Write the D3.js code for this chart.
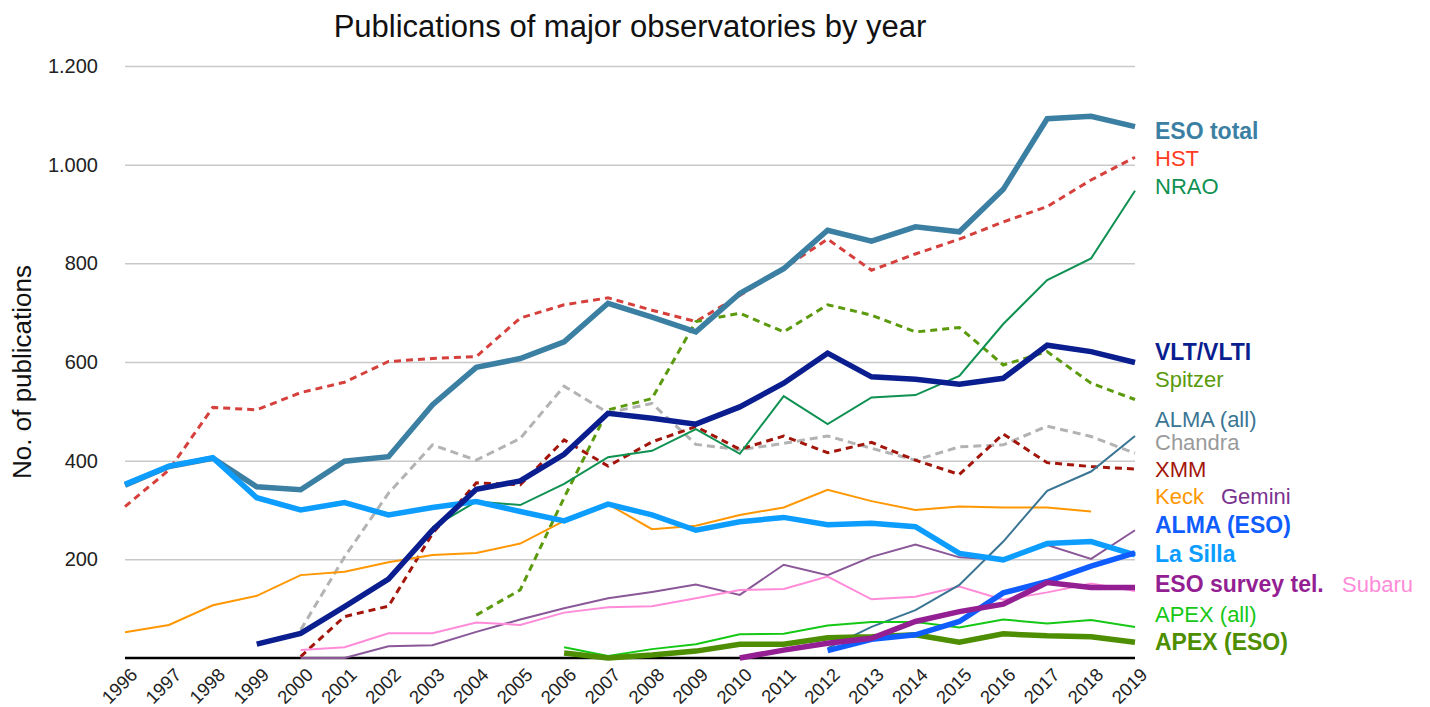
<!DOCTYPE html>
<html><head><meta charset="utf-8">
<script src="https://cdn.jsdelivr.net/npm/d3@7"></script>
<style>
html,body{margin:0;padding:0;background:#fff;}
text{font-family:"Liberation Sans","Helvetica Neue",Arial,sans-serif;}
</style></head>
<body>
<svg id="chart" width="1430" height="707"></svg>
<script>
const years = [1996,1997,1998,1999,2000,2001,2002,2003,2004,2005,2006,2007,2008,2009,2010,2011,2012,2013,2014,2015,2016,2017,2018,2019];
const N = null;
const esoTotal = [350,388,405,347,341,399,408,513,589,607,641,719,691,661,739,789,867,845,874,864,950,1093,1098,1077];
const hst      = [307,381,508,503,538,559,601,607,611,689,716,730,705,682,735,790,849,786,819,849,884,915,969,1015];
const nrao     = [N,N,N,N,N,N,N,265,317,310,353,407,420,464,414,531,474,528,533,572,677,766,810,947];
const vlt      = [N,N,N,28,50,104,160,259,342,359,413,496,486,474,509,557,618,570,565,555,567,634,621,599];
const spitzer  = [N,N,N,N,N,N,N,N,87,138,325,503,526,682,699,661,716,695,661,670,594,621,557,524];
const almaAll  = [N,N,N,N,N,N,N,N,N,N,N,N,N,N,N,N,20,63,97,148,236,339,378,450];
const chandra  = [N,N,N,N,57,205,334,432,401,445,551,497,516,433,422,435,450,425,401,428,432,470,449,415];
const xmm      = [N,N,N,N,3,84,105,252,355,351,442,389,438,469,423,450,416,437,401,372,454,396,388,383];
const keck     = [52,67,107,126,168,175,194,209,213,232,278,312,261,268,290,305,341,318,300,307,305,305,297,N];
const gemini   = [N,N,N,N,0,0,24,26,53,78,101,121,134,149,128,189,168,205,230,204,199,229,201,259];
const almaEso  = [N,N,N,N,N,N,N,N,N,N,N,N,N,N,N,N,15,38,47,74,132,155,186,213];
const laSilla  = [352,389,406,325,300,315,290,305,317,297,278,312,290,259,276,285,270,273,266,212,199,232,236,209];
const esoSurvey= [N,N,N,N,N,N,N,N,N,N,N,N,N,N,0,16,30,40,74,94,109,153,143,143];
const subaru   = [N,N,N,N,16,22,50,50,72,67,92,103,105,121,138,140,165,119,124,145,118,133,151,136];
const apexAll  = [N,N,N,N,N,N,N,N,N,N,22,4,18,28,48,49,66,73,73,62,78,70,77,63];
const apexEso  = [N,N,N,N,N,N,N,N,N,N,10,0,6,14,28,28,41,43,47,32,49,45,43,32];
const yTicks = [200,400,600,800,1000,1200];
const title = "Publications of major observatories by year";
const yTitle = "No. of publications";

// series in draw order (bottom to top)
const series = [
  {name:"HST", values:hst, color:"#d6403c", w:3, dash:"7,5"},
  {name:"Spitzer", values:spitzer, color:"#5a9a0c", w:3, dash:"7,5"},
  {name:"Chandra", values:chandra, color:"#b3b3b3", w:3, dash:"8,5"},
  {name:"XMM", values:xmm, color:"#a3150b", w:3, dash:"7,5"},
  {name:"NRAO", values:nrao, color:"#0f9152", w:2},
  {name:"Keck", values:keck, color:"#ff9702", w:2},
  {name:"Gemini", values:gemini, color:"#8a5899", w:2},
  {name:"Subaru", values:subaru, color:"#ff8bd9", w:2},
  {name:"ALMA (all)", values:almaAll, color:"#3a7594", w:2},
  {name:"APEX (all)", values:apexAll, color:"#16c816", w:2},
  {name:"ESO total", values:esoTotal, color:"#3b7fa3", w:5.5},
  {name:"La Silla", values:laSilla, color:"#0c9dff", w:5.5},
  {name:"VLT/VLTI", values:vlt, color:"#0b1e8f", w:5.5},
  {name:"APEX (ESO)", values:apexEso, color:"#4e8e02", w:5.5},
  {name:"ALMA (ESO)", values:almaEso, color:"#105dff", w:5.5},
  {name:"ESO survey tel.", values:esoSurvey, color:"#931f93", w:5.5}
];

// right-side labels
const labels = [
  {t:"ESO total", c:"#3b7fa3", b:true, x:0, y:139},
  {t:"HST", c:"#ff3b22", b:false, x:0, y:166},
  {t:"NRAO", c:"#0f9152", b:false, x:0, y:194},
  {t:"VLT/VLTI", c:"#0b1e8f", b:true, x:0, y:360},
  {t:"Spitzer", c:"#5a9a0c", b:false, x:0, y:387},
  {t:"ALMA (all)", c:"#3a7594", b:false, x:0, y:427},
  {t:"Chandra", c:"#9a9a9a", b:false, x:0, y:450},
  {t:"XMM", c:"#a3150b", b:false, x:0, y:477},
  {t:"Keck", c:"#ff9702", b:false, x:0, y:504},
  {t:"Gemini", c:"#7a3390", b:false, x:66, y:504},
  {t:"ALMA (ESO)", c:"#105dff", b:true, x:0, y:533},
  {t:"La Silla", c:"#0c9dff", b:true, x:0, y:562},
  {t:"ESO survey tel.", c:"#931f93", b:true, x:0, y:592},
  {t:"Subaru", c:"#ff8bd9", b:false, x:187, y:592},
  {t:"APEX (all)", c:"#16c816", b:false, x:0, y:622},
  {t:"APEX (ESO)", c:"#4e8e02", b:true, x:0, y:650}
];

const svg = d3.select("#chart");
const x = d3.scaleLinear().domain([1996,2019]).range([125,1135]);
const y = d3.scaleLinear().domain([0,1200]).range([658,66]);

const loc = d3.formatLocale({decimal:",", thousands:".", grouping:[3], currency:["",""]});
const fmt = loc.format(",");

// grid
const grid = svg.append("g").attr("transform","translate(125,0)")
  .call(d3.axisLeft(y).tickValues(yTicks).tickSize(-1010).tickFormat(""));
grid.select(".domain").remove();
grid.selectAll("line").attr("stroke","#c9c9c9").attr("stroke-width",1.5);

// y labels
const ya = svg.append("g").attr("transform","translate(125,0)")
  .call(d3.axisLeft(y).tickValues(yTicks).tickSize(0).tickPadding(27).tickFormat(fmt));
ya.select(".domain").remove();
ya.selectAll("text").attr("font-size",20).attr("fill","#222");

// baseline
svg.append("line").attr("x1",x(1996)).attr("x2",x(2019)).attr("y1",y(0)).attr("y2",y(0))
  .attr("stroke","#000").attr("stroke-width",2.5);

// x axis labels
const xa = svg.append("g").attr("transform",`translate(0,${y(0)})`)
  .call(d3.axisBottom(x).tickValues(years).tickSize(0).tickFormat(d3.format("d")));
xa.select(".domain").remove();
xa.selectAll("text").attr("font-size",18.5).attr("fill","#222")
  .attr("text-anchor","end").attr("dy",null).attr("y",null)
  .attr("transform","translate(13,18) rotate(-45)");

// lines
const line = d3.line().defined(d=>d[1]!==null).x(d=>x(d[0])).y(d=>y(d[1]));
svg.append("g").selectAll("path").data(series).join("path")
  .attr("d",s=>line(years.map((yr,i)=>[yr,s.values[i]])))
  .attr("fill","none").attr("stroke",s=>s.color).attr("stroke-width",s=>s.w)
  .attr("stroke-dasharray",s=>s.dash||null).attr("stroke-linejoin","miter").attr("stroke-linecap","butt");

// labels
svg.append("g").selectAll("text").data(labels).join("text")
  .attr("x",d=>1155+d.x).attr("y",d=>d.y).text(d=>d.t)
  .attr("fill",d=>d.c).attr("font-size",d=>d.b?23:22).attr("font-weight",d=>d.b?"bold":"normal");

// title
svg.append("text").attr("x",630).attr("y",37).attr("text-anchor","middle")
  .attr("font-size",31).attr("fill","#111").text(title);
svg.append("text").attr("transform","translate(31,372) rotate(-90)").attr("text-anchor","middle")
  .attr("font-size",26).attr("fill","#111").text(yTitle);
</script>
</body></html>
